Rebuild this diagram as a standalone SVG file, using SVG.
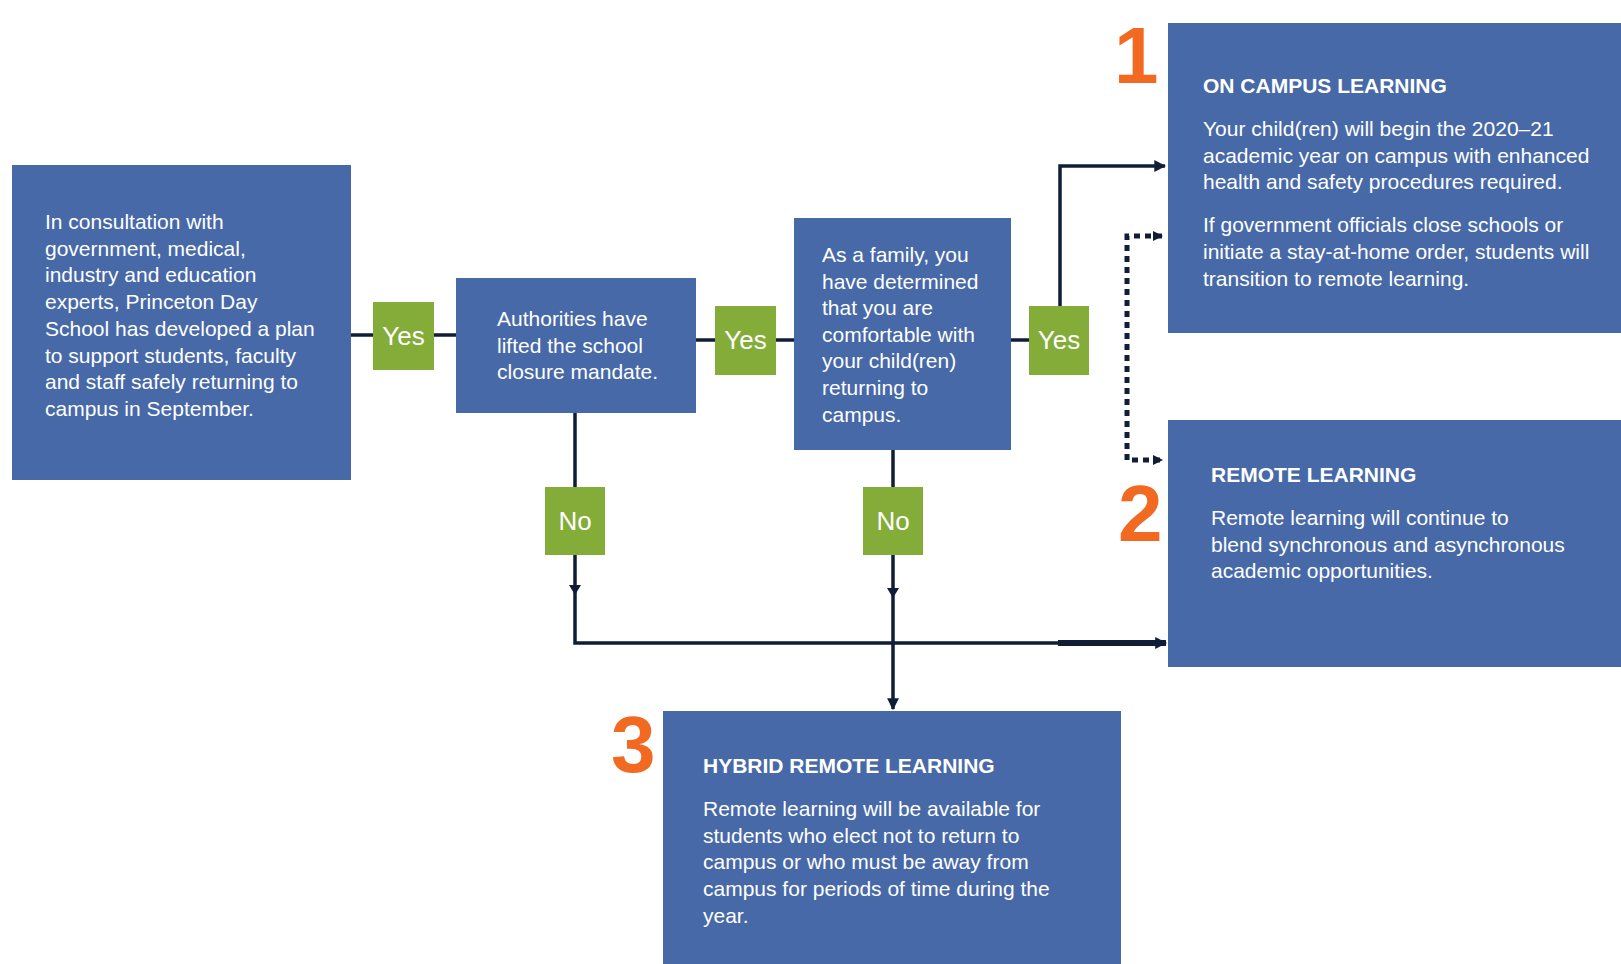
<svg xmlns="http://www.w3.org/2000/svg" width="1621" height="964" viewBox="0 0 1621 964">
<defs>
<style>
.box{fill:#4769A8}
.tag{fill:#84AC38}
.t{font-family:"Liberation Sans",Arial,sans-serif;font-size:21px;fill:#fff}
.h{font-family:"Liberation Sans",Arial,sans-serif;font-size:21px;font-weight:bold;fill:#fff}
.lbl{font-family:"Liberation Sans",Arial,sans-serif;font-size:26px;fill:#fff;text-anchor:middle}
.num{font-family:"Liberation Sans",Arial,sans-serif;font-size:80px;font-weight:bold;fill:#F26A21}
.ln{fill:none;stroke:#0F1E36;stroke-width:3.5}
.dot{fill:none;stroke:#0F1E36;stroke-width:5;stroke-dasharray:6 5}
</style>
<marker id="ar" viewBox="0 0 10 10" refX="9" refY="5" markerWidth="3.4" markerHeight="3.4" orient="auto-start-reverse" markerUnits="strokeWidth">
<path d="M0,0 L10,5 L0,10 z" fill="#0F1E36"/>
</marker>
<marker id="ard" viewBox="0 0 10 10" refX="9" refY="5" markerWidth="2" markerHeight="2.6" orient="auto-start-reverse" markerUnits="strokeWidth">
<path d="M0,0 L10,5 L0,10 z" fill="#0F1E36"/>
</marker>
</defs>
<rect width="1621" height="964" fill="#fff"/>
<g id="connectors">
<path class="ln" d="M351,335 H456"/>
<path class="ln" d="M696,340 H794"/>
<path class="ln" d="M1011,340 H1029"/>
<path class="ln" d="M1060,306 V166 H1165" marker-end="url(#ar)"/>
<path class="dot" d="M1162,236 H1127 V460 H1162" marker-start="url(#ard)" marker-end="url(#ard)"/>
<path class="ln" d="M575,412 V643 H1060"/>
<path class="ln" d="M1058,643 H1166" style="stroke-width:6" marker-end="url(#ard)"/>
<path class="ln" d="M893,450 V709" marker-end="url(#ar)"/>
<path d="M569,585 L581,585 L575,595 z" fill="#0F1E36"/>
<path d="M887,588 L899,588 L893,598 z" fill="#0F1E36"/>
</g>
<g id="node-consult">
<rect class="box" x="12" y="165" width="339" height="315"/>
<text class="t" x="45" y="229">In consultation with</text>
<text class="t" x="45" y="255.7">government, medical,</text>
<text class="t" x="45" y="282.4">industry and education</text>
<text class="t" x="45" y="309.1">experts, Princeton Day</text>
<text class="t" x="45" y="335.8">School has developed a plan</text>
<text class="t" x="45" y="362.5">to support students, faculty</text>
<text class="t" x="45" y="389.2">and staff safely returning to</text>
<text class="t" x="45" y="415.9">campus in September.</text>
</g>
<g id="yes1">
<rect class="tag" x="373" y="302" width="61" height="68"/>
<text class="lbl" x="403.5" y="345">Yes</text>
</g>
<g id="node-authorities">
<rect class="box" x="456" y="278" width="240" height="135"/>
<text class="t" x="497" y="326">Authorities have</text>
<text class="t" x="497" y="352.5">lifted the school</text>
<text class="t" x="497" y="379">closure mandate.</text>
</g>
<g id="yes2">
<rect class="tag" x="715" y="306" width="61" height="69"/>
<text class="lbl" x="745.5" y="349">Yes</text>
</g>
<g id="node-family">
<rect class="box" x="794" y="218" width="217" height="232"/>
<text class="t" x="822" y="262">As a family, you</text>
<text class="t" x="822" y="288.6">have determined</text>
<text class="t" x="822" y="315.2">that you are</text>
<text class="t" x="822" y="341.8">comfortable with</text>
<text class="t" x="822" y="368.4">your child(ren)</text>
<text class="t" x="822" y="395">returning to</text>
<text class="t" x="822" y="421.6">campus.</text>
</g>
<g id="yes3">
<rect class="tag" x="1029" y="306" width="60" height="69"/>
<text class="lbl" x="1059" y="349">Yes</text>
</g>
<g id="no1">
<rect class="tag" x="545" y="487" width="60" height="68"/>
<text class="lbl" x="575" y="530">No</text>
</g>
<g id="no2">
<rect class="tag" x="863" y="487" width="60" height="68"/>
<text class="lbl" x="893" y="530">No</text>
</g>
<g id="node-oncampus">
<rect class="box" x="1168" y="23" width="453" height="310"/>
<text class="num" x="1114" y="83">1</text>
<text class="h" x="1203" y="93">ON CAMPUS LEARNING</text>
<text class="t" x="1203" y="136">Your child(ren) will begin the 2020–21</text>
<text class="t" x="1203" y="162.7">academic year on campus with enhanced</text>
<text class="t" x="1203" y="189.3">health and safety procedures required.</text>
<text class="t" x="1203" y="232.3">If government officials close schools or</text>
<text class="t" x="1203" y="259">initiate a stay-at-home order, students will</text>
<text class="t" x="1203" y="285.7">transition to remote learning.</text>
</g>
<g id="node-remote">
<rect class="box" x="1168" y="420" width="453" height="247"/>
<text class="num" x="1118" y="541">2</text>
<text class="h" x="1211" y="482">REMOTE LEARNING</text>
<text class="t" x="1211" y="525">Remote learning will continue to</text>
<text class="t" x="1211" y="551.7">blend synchronous and asynchronous</text>
<text class="t" x="1211" y="578.3">academic opportunities.</text>
</g>
<g id="node-hybrid">
<rect class="box" x="663" y="711" width="458" height="253"/>
<text class="num" x="611" y="772">3</text>
<text class="h" x="703" y="773">HYBRID REMOTE LEARNING</text>
<text class="t" x="703" y="816">Remote learning will be available for</text>
<text class="t" x="703" y="842.7">students who elect not to return to</text>
<text class="t" x="703" y="869.3">campus or who must be away from</text>
<text class="t" x="703" y="896">campus for periods of time during the</text>
<text class="t" x="703" y="922.7">year.</text>
</g>
</svg>
